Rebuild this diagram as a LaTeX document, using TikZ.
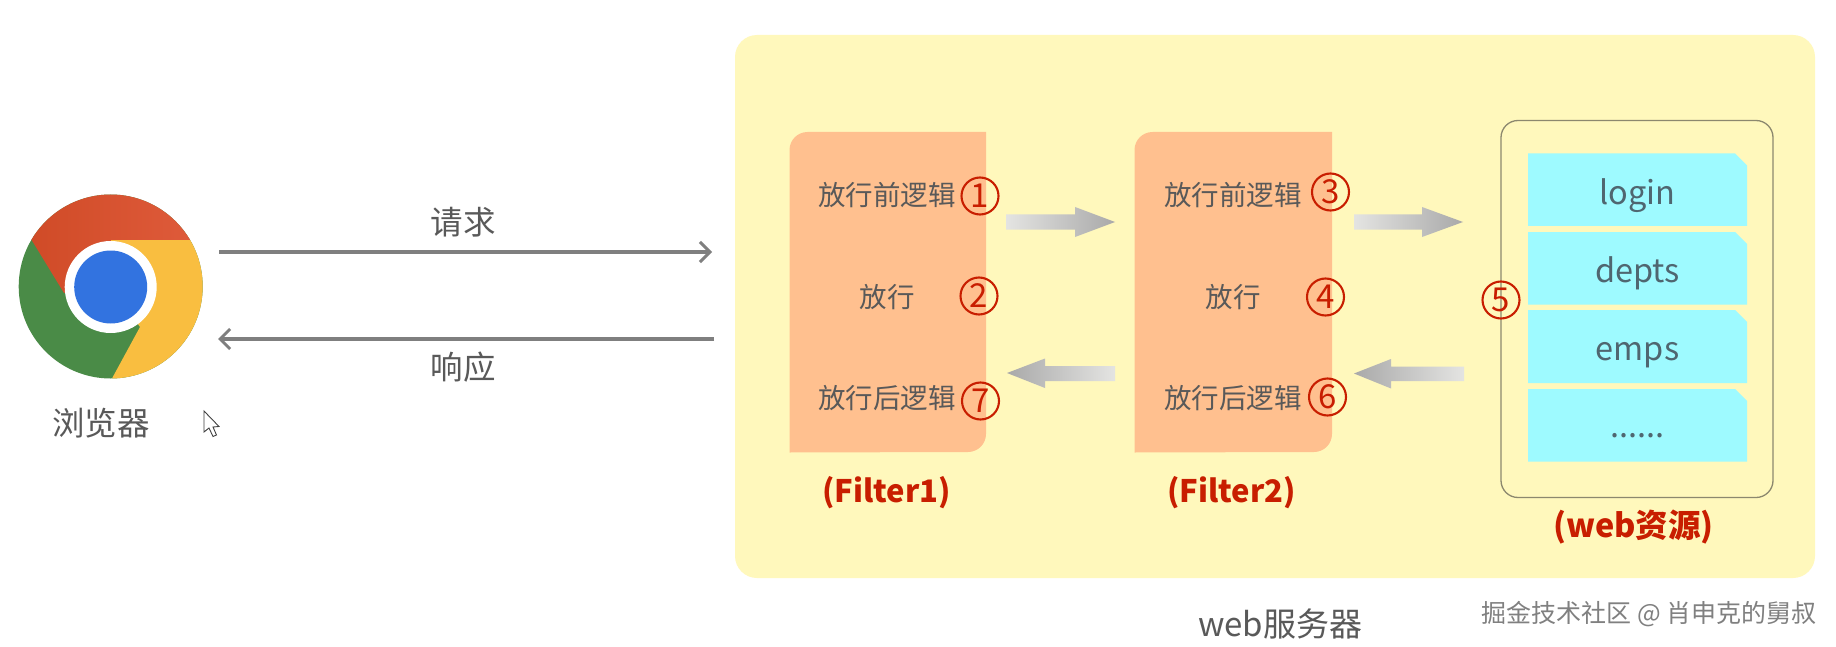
\documentclass[tikz,border=0pt]{standalone}
\usepackage{fontspec}
\usetikzlibrary{arrows.meta,shapes.misc,shadings}
\newfontfamily\cjk{Noto Sans CJK SC}
\newcommand{\fsz}[1]{\cjk\fontsize{#1}{#1}\selectfont}
\definecolor{panelc}{HTML}{FFF8BC}
\definecolor{filterc}{HTML}{FFC08F}
\definecolor{cyanc}{HTML}{9EFAFF}
\definecolor{redc}{HTML}{C81E00}
\definecolor{txtc}{HTML}{595959}
\definecolor{linec}{HTML}{7F7F7F}
\definecolor{ares}{HTML}{4F6670}
\definecolor{gralight}{HTML}{E4E4E2}
\definecolor{gradark}{HTML}{A9A9A9}
\tikzset{
  x=1pt,y=-1pt,
  flow/.style={draw=linec,line width=3.2pt,-{Straight Barb[length=10pt,width=20pt,line width=3pt]}},
  lab/.style={text=txtc,inner sep=0pt,font=\fsz{32.5}},
  logic/.style={text=txtc,inner sep=0pt,font=\fsz{27.5}},
  num/.style={circle,draw=redc,line width=2.1pt,minimum size=37pt,inner sep=0pt,text=redc,font=\fsz{33}},
  tag/.style={text=redc,inner sep=0pt,font=\fsz{31}\bfseries},
  res/.style={text=ares,inner sep=0pt,font=\fsz{32.5}},
  gradfwd/.style={left color=gralight,right color=gradark},
  gradback/.style={left color=gradark,right color=gralight},
}
\begin{document}
\begin{tikzpicture}
\useasboundingbox (0,0) rectangle (1836,647);
\fill[white] (0,0) rectangle (1836,647);

% chrome logo
\begin{scope}
\clip (110.7,286.5) circle[radius=92];
\fill[fill={rgb,255:red,74;green,139;blue,71}] (10,180) rectangle (215,395);
\shade[left color={rgb,255:red,207;green,74;blue,38},right color={rgb,255:red,224;green,92;blue,60}]
  (20,221) -- (64,293) -- (111,287) -- (111,240) -- (210,240) -- (210,180) -- (20,180) -- cycle;
\fill[fill={rgb,255:red,249;green,190;blue,64}]
  (111,240) -- (210,240) -- (210,395) -- (103,395) -- (140,327) -- (111,287) -- cycle;
\end{scope}
\node[circle,fill=white,minimum size=92pt,inner sep=0pt] (ring) at (110.7,287) {};
\node[circle,fill={rgb,255:red,50;green,115;blue,224},minimum size=73pt,inner sep=0pt] (chrome) at (110.7,287) {};

% browser label
\node[lab] (browser) at (101,423) {浏览器};
\filldraw[fill=white,draw=black!75,line width=.9pt]
  (204,411) -- (204,432) -- (209,428) -- (213,436.5) -- (216.5,435) -- (213,427) -- (219,426.5) -- cycle;

% panel
\node[draw=none,fill=panelc,rounded corners=22pt,minimum width=1080pt,minimum height=543pt,inner sep=0pt] (panel) at (1275,306.5) {};

% request / response
\coordinate (reqa) at (219,252);
\coordinate (reqb) at (712,252);
\coordinate (resa) at (714,339);
\coordinate (resb) at (218,339);
\draw[flow] (reqa) -- (reqb);
\draw[flow] (resa) -- (resb);
\node[lab] (reqt) at (463,222) {请求};
\node[lab] (rest) at (463,367) {响应};

% filters
\fill[filterc] (789.5,150) arc[start angle=180,end angle=270,radius=18] -- (986,132) -- (986,434) arc[start angle=0,end angle=90,radius=18] -- (789.5,452.5) -- cycle;
\fill[filterc] (1134.5,150) arc[start angle=180,end angle=270,radius=18] -- (1332,132) -- (1332,434) arc[start angle=0,end angle=90,radius=18] -- (1134.5,452.5) -- cycle;

\node[logic] (a1) at (887,195) {放行前逻辑};
\node[logic] (a2) at (887,297) {放行};
\node[logic] (a3) at (887,398) {放行后逻辑};
\node[logic] (b1) at (1233,195) {放行前逻辑};
\node[logic] (b2) at (1233,297) {放行};
\node[logic] (b3) at (1233,398) {放行后逻辑};

\node[num] (n1) at (980,196) {1};
\node[num] (n2) at (979,296) {2};
\node[num] (n7) at (980.5,401) {7};
\node[num] (n3) at (1330.5,192) {3};
\node[num] (n4) at (1325.5,297) {4};
\node[num] (n6) at (1327.5,397) {6};

\node[tag] (f1) at (886.7,493) {(Filter1)};
\node[tag] (f2) at (1231.5,493) {(Filter2)};

% block arrows
\shade[gradfwd] (1006,214.5) -- (1075,214.5) -- (1075,207) -- (1115,222) -- (1075,237) -- (1075,229.5) -- (1006,229.5) -- cycle;
\shade[gradfwd] (1354,214.5) -- (1422,214.5) -- (1422,207) -- (1463,222) -- (1422,237) -- (1422,229.5) -- (1354,229.5) -- cycle;
\shade[gradback] (1007,373) -- (1045,358.5) -- (1045,366) -- (1115,366) -- (1115,381) -- (1045,381) -- (1045,388) -- cycle;
\shade[gradback] (1354,373.5) -- (1391,359) -- (1391,366.5) -- (1464,366.5) -- (1464,381) -- (1391,381) -- (1391,388.5) -- cycle;

% web resources
\node[draw={rgb,255:red,140;green,136;blue,110},line width=1.3pt,rounded corners=17pt,minimum width=272pt,minimum height=377pt,inner sep=0pt] (webbox) at (1637,309) {};
\foreach \yt/\yb in {153.5/226,232/304.5,310/383,389/461.5}{
  \fill[cyanc] (1528,\yt) -- (1735,\yt) -- (1747,\yt+12) -- (1747,\yb) -- (1528,\yb) -- cycle;
}
\node[res] (login) at (1637.5,196) {login};
\node[res] (depts) at (1637.5,273.5) {depts};
\node[res] (emps) at (1637.5,355) {emps};
\node[res] (dots) at (1637.5,436) {......};
\node[num] (n5) at (1501,300) {5};
\node[tag,font=\fsz{32.5}\bfseries] (webres) at (1633.5,527) {(web资源)};

% bottom
\node[lab,font=\fsz{33}] (server) at (1280,624) {web服务器};
\node[text=black!50,inner sep=0pt,font=\fsz{25}] (mark) at (1649,614) {掘金技术社区 @ 肖申克的舅叔};
\end{tikzpicture}
\end{document}
